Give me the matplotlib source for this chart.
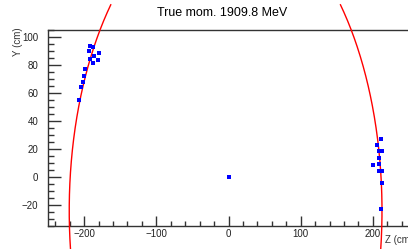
"""Event display: hit positions in Z-Y with circle fit."""
import numpy as np
import matplotlib
matplotlib.use("Agg")
import matplotlib.pyplot as plt
from matplotlib.ticker import MultipleLocator

plt.rcParams['font.family'] = ['Liberation Sans', 'DejaVu Sans']

title = "True mom. 1909.8 MeV"

# hits (cm)
hit_z = [-207.5, -203.7, -201.9, -200.0, -199.2, -193.6, -191.3, -187.6, -191.7,
         -186.2, -187.6, -181.2, -179.8,
         211.2, 206.1, 208.9, 213.0, 208.0, 199.7, 208.9, 208.9, 213.0, 212.6, 211.2,
         0.0]
hit_y = [55.0, 64.0, 67.9, 72.4, 76.9, 90.2, 93.8, 92.6, 84.0,
         86.6, 81.6, 83.8, 88.6,
         27.4, 22.9, 18.3, 18.3, 13.8, 8.6, 9.3, 4.5, 4.5, -4.3, -22.9,
         0.0]

# fitted circle (cm)
fit_zc, fit_yc, fit_r = -4.0, -24.0, 216.6
curve_ymin, curve_ymax = -52.0, 123.0

fig = plt.figure(figsize=(4.08, 2.49), dpi=100)
ax = fig.add_axes([48 / 408, 1 - 226 / 249, 361 / 408, 196 / 249])

yy = np.linspace(curve_ymin, curve_ymax, 200)
half = np.sqrt(fit_r**2 - (yy - fit_yc)**2)
for sgn in (-1, 1):
    ax.plot(fit_zc + sgn * half, yy, color='red', lw=1.0, clip_on=False, zorder=3)

ax.plot(hit_z, hit_y, 's', color='blue', ms=2.6, mew=0, zorder=4)

ax.set_xlim(-250, 250)
ax.set_ylim(-35, 105)
ax.xaxis.set_major_locator(MultipleLocator(100))
ax.xaxis.set_minor_locator(MultipleLocator(20))
ax.yaxis.set_major_locator(MultipleLocator(20))
ax.yaxis.set_minor_locator(MultipleLocator(5))
ax.tick_params(which='both', direction='in', labelsize=7, color='#333333',
               labelcolor='#222222', top=False, right=False)
ax.tick_params(axis='x', which='major', length=7, width=1, pad=2)
ax.tick_params(axis='x', which='minor', length=3.5, width=1)
ax.tick_params(axis='y', which='major', length=9, width=1, pad=7)
ax.tick_params(axis='y', which='minor', length=4.5, width=1)
for s in ax.spines.values():
    s.set_color('#333333')
    s.set_linewidth(1.0)
ax.spines['right'].set_visible(False)

fig.text(222 / 408, 1 - 13 / 249, title, ha='center', va='center', fontsize=9)
fig.text(18 / 408, 1 - 27 / 249, "Y (cm)", rotation=90, ha='center', va='top', fontsize=7,
         color='#333333')
fig.text(385 / 408, 1 - 240 / 249, "Z (cm)", ha='left', va='center', fontsize=7,
         color='#333333')

fig.savefig("out.png", dpi=100)
